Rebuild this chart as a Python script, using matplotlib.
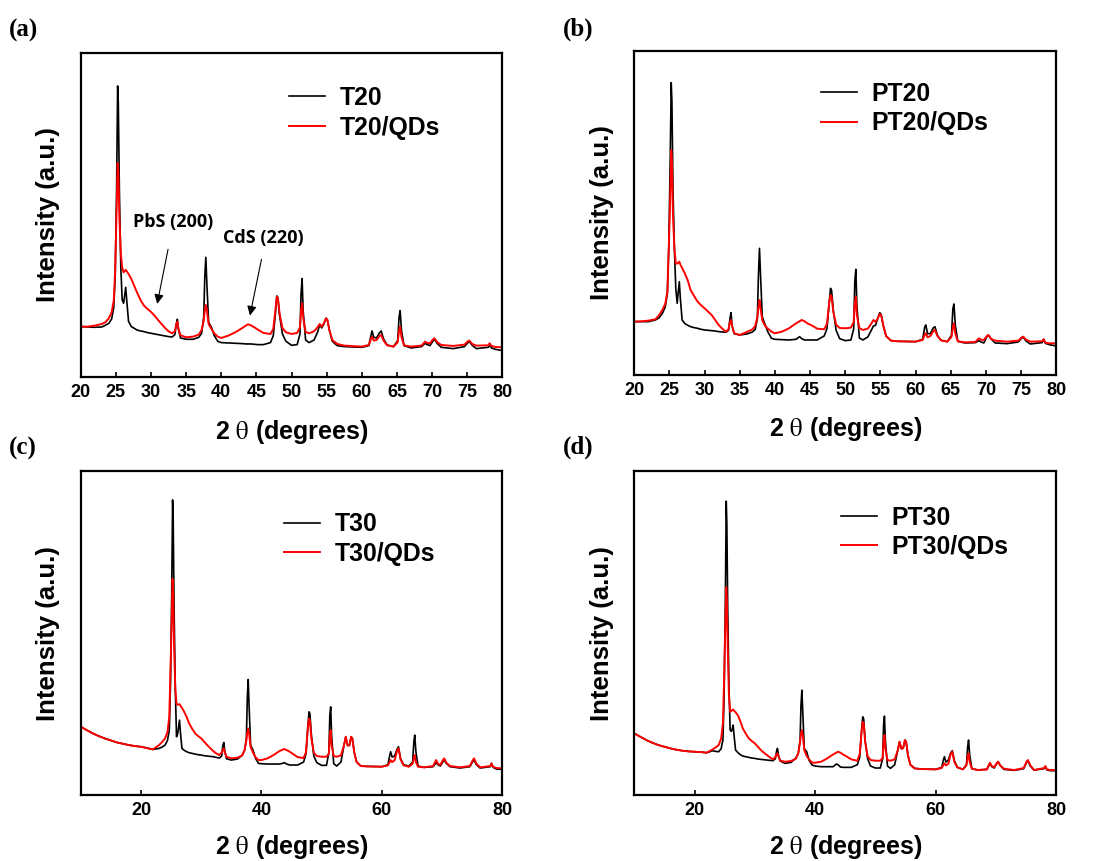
import matplotlib
matplotlib.use("Agg")
import matplotlib.pyplot as plt

# ---- data (arbitrary intensity units) ----
# sampling positions in 2-theta (degrees), shared by every trace
two_theta_20 = [20, 21, 22, 23, 23.5, 24, 24.4, 24.7, 24.9, 25.1,
                25.25, 25.35, 25.5, 25.7, 25.9, 26.1, 26.25, 26.4, 26.55, 26.8,
                27.2, 27.6, 28, 28.5, 29, 29.5, 30, 30.5, 31, 31.5,
                32, 32.5, 33, 33.4, 33.6, 33.75, 33.9, 34.2, 35, 36,
                36.8, 37.2, 37.5, 37.65, 37.8, 37.95, 38.2, 38.6, 39, 39.5,
                40, 41, 42, 43, 43.5, 43.8, 44.2, 44.7, 45.2, 46,
                47, 47.4, 47.7, 47.9, 48.05, 48.3, 48.7, 49.2, 50, 50.8,
                51.2, 51.35, 51.5, 51.65, 52, 52.5, 53.2, 53.7, 54, 54.3,
                54.6, 54.9, 55.1, 55.4, 55.8, 56.5, 57.5, 60, 61, 61.3,
                61.45, 61.7, 62.1, 62.5, 62.75, 63.1, 63.6, 64.5, 65.1, 65.3,
                65.45, 65.65, 66, 67, 68.5, 69, 69.3, 69.7, 70.1, 70.35,
                70.7, 71.3, 73, 74.6, 75.1, 75.3, 75.7, 76.3, 78, 78.2,
                78.45, 79, 80]
two_theta_10 = [10, 11, 12, 13, 14, 15, 16, 17, 18, 19] + two_theta_20

# (a) T20 / T20-QDs
t20 = [152, 151, 150, 151, 156, 162, 175, 210, 300, 560,
       874, 820, 560, 330, 232, 222, 245, 270, 230, 168,
       152, 147, 142, 139, 137, 134, 132, 130, 128, 126,
       124, 122, 121, 128, 160, 174, 145, 118, 114, 114,
       120, 132, 180, 300, 360, 280, 165, 150, 125, 108,
       104, 103, 102, 101, 100, 100, 100, 99, 98, 98,
       104, 125, 190, 244, 240, 185, 130, 108, 96, 98,
       130, 250, 296, 200, 112, 104, 112, 135, 157, 148,
       160, 177, 172, 140, 108, 95, 92, 90, 95, 125,
       139, 120, 118, 133, 139, 115, 97, 92, 110, 180,
       200, 140, 95, 88, 92, 102, 98, 95, 108, 114,
       102, 90, 86, 92, 104, 107, 96, 86, 90, 97,
       88, 84, 80]
t20_qds = [152, 152, 155, 160, 165, 177, 195, 230, 320, 500,
           642, 620, 480, 372, 330, 315, 318, 322, 318, 310,
           295, 275, 255, 232, 215, 205, 196, 185, 172, 160,
           148, 138, 132, 138, 160, 167, 145, 126, 120, 122,
           128, 142, 170, 200, 217, 200, 160, 145, 132, 122,
           118, 125, 135, 148, 155, 159, 156, 150, 143, 133,
           130, 145, 200, 242, 238, 190, 148, 135, 130, 133,
           150, 200, 222, 180, 136, 132, 138, 150, 160, 152,
           162, 177, 172, 140, 112, 100, 95, 92, 97, 115,
           122, 110, 112, 123, 127, 110, 96, 92, 105, 140,
           152, 120, 96, 92, 95, 107, 103, 102, 113, 117,
           106, 97, 94, 98, 108, 110, 100, 95, 96, 102,
           94, 91, 90]

# (b) PT20 / PT20-QDs
pt20 = [161, 161, 161, 166, 172, 186, 205, 246, 380, 640,
        878, 820, 560, 380, 260, 216, 250, 281, 230, 166,
        155, 150, 146, 143, 141, 138, 136, 135, 134, 133,
        131, 130, 129, 135, 170, 188, 150, 125, 121, 124,
        130, 138, 170, 300, 381, 300, 175, 152, 130, 111,
        108, 107, 106, 108, 116, 110, 106, 106, 106, 106,
        118, 140, 215, 261, 255, 195, 135, 110, 104, 106,
        140, 280, 318, 210, 112, 106, 115, 135, 148, 150,
        170, 188, 183, 150, 118, 104, 102, 101, 108, 145,
        151, 125, 125, 142, 146, 120, 105, 101, 120, 200,
        214, 150, 102, 97, 98, 104, 100, 97, 115, 121,
        110, 97, 95, 100, 112, 114, 103, 94, 98, 108,
        96, 92, 88]
pt20_qds = [161, 162, 164, 168, 180, 196, 215, 250, 380, 526,
            676, 640, 480, 380, 336, 335, 338, 341, 332, 322,
            305, 285, 256, 238, 221, 210, 201, 191, 181, 166,
            151, 140, 131, 138, 160, 166, 148, 126, 121, 130,
            138, 148, 175, 205, 226, 200, 165, 148, 140, 131,
            126, 131, 141, 156, 162, 166, 162, 155, 150, 140,
            138, 155, 215, 241, 236, 190, 152, 142, 141, 143,
            160, 215, 236, 180, 142, 136, 140, 155, 166, 160,
            170, 184, 180, 150, 118, 104, 102, 101, 106, 122,
            126, 114, 118, 132, 136, 118, 105, 101, 115, 145,
            156, 125, 102, 99, 100, 111, 107, 106, 117, 121,
            110, 104, 101, 104, 114, 116, 107, 101, 102, 108,
            98, 96, 96]

# (c) T30 / T30-QDs  (start at 10 degrees)
t30 = [206, 196, 186, 178, 171, 165, 159, 155, 151, 148,
       146, 142, 138, 141, 145, 151, 165, 196, 330, 600,
       888, 830, 560, 320, 176, 185, 205, 226, 190, 141,
       135, 131, 128, 126, 124, 122, 121, 119, 118, 117,
       116, 114, 112, 118, 150, 159, 135, 110, 106, 109,
       120, 135, 170, 290, 348, 270, 150, 136, 112, 96,
       95, 94, 94, 94, 96, 98, 94, 91, 91, 91,
       100, 125, 205, 251, 245, 180, 118, 98, 90, 90,
       130, 240, 266, 180, 95, 88, 100, 150, 176, 150,
       150, 176, 170, 130, 100, 88, 87, 86, 92, 120,
       131, 115, 118, 138, 146, 110, 92, 88, 100, 160,
       181, 130, 88, 84, 86, 98, 92, 88, 100, 106,
       96, 86, 82, 86, 102, 106, 92, 82, 86, 96,
       84, 79, 78]
t30_qds = [206, 196, 186, 178, 171, 165, 159, 155, 151, 148,
           146, 142, 138, 151, 160, 171, 190, 236, 380, 520,
           651, 610, 446, 320, 276, 272, 273, 274, 270, 263,
           250, 235, 216, 200, 186, 178, 171, 161, 151, 142,
           133, 126, 121, 128, 138, 141, 130, 116, 111, 113,
           120, 136, 165, 190, 201, 185, 146, 128, 115, 106,
           106, 111, 121, 133, 137, 139, 136, 131, 125, 115,
           112, 130, 200, 231, 226, 170, 128, 118, 116, 116,
           125, 180, 196, 150, 118, 116, 120, 150, 176, 150,
           150, 176, 170, 130, 100, 88, 87, 86, 90, 100,
           106, 100, 105, 132, 141, 108, 90, 86, 95, 112,
           121, 100, 86, 84, 88, 106, 95, 91, 105, 111,
           98, 88, 84, 88, 106, 111, 95, 84, 88, 96,
           86, 82, 81]

# (d) PT30 / PT30-QDs  (start at 10 degrees)
pt30 = [186, 176, 166, 158, 151, 146, 141, 137, 134, 132,
        131, 130, 128, 134, 132, 131, 140, 166, 300, 580,
        884, 820, 560, 330, 196, 192, 200, 211, 180, 136,
        128, 122, 118, 116, 114, 112, 111, 109, 108, 107,
        106, 105, 104, 110, 132, 141, 122, 103, 96, 99,
        112, 126, 165, 270, 316, 250, 140, 131, 105, 91,
        88, 86, 86, 86, 94, 92, 85, 84, 84, 84,
        92, 115, 195, 236, 230, 165, 110, 88, 82, 82,
        110, 210, 238, 165, 88, 81, 92, 135, 161, 140,
        142, 166, 160, 120, 92, 81, 79, 78, 84, 108,
        116, 100, 106, 128, 134, 104, 84, 78, 92, 145,
        166, 120, 80, 76, 78, 96, 86, 82, 95, 101,
        90, 78, 75, 80, 100, 104, 88, 76, 80, 86,
        76, 74, 74]
pt30_qds = [186, 176, 166, 158, 151, 146, 141, 137, 134, 132,
            131, 130, 128, 138, 144, 151, 170, 216, 350, 500,
            626, 590, 446, 300, 251, 254, 256, 258, 254, 250,
            240, 222, 201, 185, 171, 163, 156, 146, 136, 128,
            121, 114, 108, 115, 124, 126, 118, 104, 101, 103,
            110, 126, 160, 185, 196, 180, 136, 118, 108, 98,
            98, 101, 111, 123, 128, 131, 128, 122, 117, 108,
            104, 125, 190, 221, 216, 160, 118, 106, 104, 104,
            112, 165, 181, 140, 106, 104, 108, 135, 161, 140,
            142, 166, 160, 120, 92, 81, 79, 78, 82, 92,
            96, 90, 95, 125, 131, 100, 84, 78, 90, 115,
            126, 100, 80, 76, 78, 98, 88, 84, 96, 101,
            90, 80, 76, 82, 102, 106, 90, 76, 82, 88,
            78, 76, 76]

panels = [
    ("(a)", "T20", two_theta_20, t20, t20_qds, (20, 80), list(range(20, 81, 5))),
    ("(b)", "PT20", two_theta_20, pt20, pt20_qds, (20, 80), list(range(20, 81, 5))),
    ("(c)", "T30", two_theta_10, t30, t30_qds, (10, 80), [20, 40, 60, 80]),
    ("(d)", "PT30", two_theta_10, pt30, pt30_qds, (10, 80), [20, 40, 60, 80]),
]

# axes rectangles (figure fraction) and legend / label placement per panel
rects = [[0.0738, 0.5618, 0.3854, 0.3771], [0.5798, 0.5641, 0.3857, 0.3771],
         [0.0738, 0.0763, 0.3854, 0.3763], [0.5798, 0.0763, 0.3857, 0.3763]]
legend_pos = [(0.465, 0.935), (0.413, 0.942), (0.452, 0.912), (0.46, 0.932)]
xlabel_y = [-0.125, -0.122, -0.116, -0.116]
tag_pos = [(9, 30), (563, 29), (9, 448), (563, 447)]

plt.rcParams["mathtext.fontset"] = "stix"
sans = "Liberation Sans"

fig = plt.figure(figsize=(10.94, 8.61), dpi=100)

for i, (tag, name, x, black, red, xlim, ticks) in enumerate(panels):
    ax = fig.add_axes(rects[i])
    ax.plot(x, black, color="black", lw=1.2, label=name)
    ax.plot(x, red, color="red", lw=1.4, label=name + "/QDs")
    ax.set_xlim(*xlim)
    ax.set_ylim(0, 974)
    ax.set_xticks(ticks)
    ax.set_yticks([])
    ax.tick_params(axis="x", direction="in", length=3.5, width=1.2, pad=5)
    for lab in ax.get_xticklabels():
        lab.set_fontfamily(sans)
        lab.set_fontweight("bold")
        lab.set_fontsize(13)
    for sp in ax.spines.values():
        sp.set_linewidth(1.6)

    ax.set_ylabel("Intensity (a.u.)", fontsize=18.5, fontweight="bold", family=sans)
    ax.yaxis.set_label_coords(-0.049, 0.5)
    ax.set_xlabel(r"2 $\mathrm{\theta}$ (degrees)", fontsize=18, fontweight="bold", family=sans,
                  va="top")
    ax.xaxis.set_label_coords(0.5, xlabel_y[i])

    ax.legend(loc="upper left", bbox_to_anchor=legend_pos[i], frameon=False,
              prop={"family": sans, "weight": "bold", "size": 17.8},
              handlelength=1.45, handletextpad=0.6, labelspacing=0.22, borderpad=0)

    fig.text(tag_pos[i][0] / 1094, 1 - tag_pos[i][1] / 861, tag, family="Liberation Serif",
             fontweight="bold", fontsize=18, ha="left", va="center")

    if i == 0:
        arrow = dict(arrowstyle="-|>", color="black", lw=0.8, mutation_scale=14)
        ax.annotate("PbS (200)", xy=(30.8, 212), xytext=(33.2, 467), ha="center", va="center",
                    fontsize=13, fontweight="bold", family="Open Sans")
        ax.annotate("", xy=(30.8, 212), xytext=(32.5, 392), arrowprops=arrow)
        ax.annotate("CdS (220)", xy=(44.0, 177), xytext=(46.0, 417), ha="center", va="center",
                    fontsize=13, fontweight="bold", family="Open Sans")
        ax.annotate("", xy=(44.0, 177), xytext=(45.8, 362), arrowprops=arrow)

fig.savefig("out.png", dpi=100, facecolor="white")
